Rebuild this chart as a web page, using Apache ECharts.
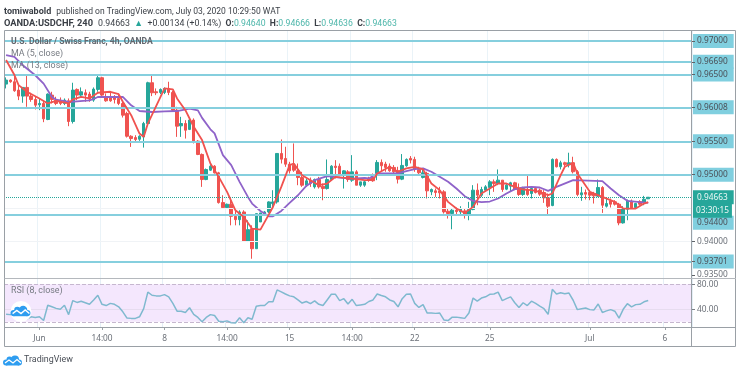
<!DOCTYPE html>
<html><head><meta charset="utf-8">
<style>html,body{margin:0;padding:0;background:#fff}#c{width:740px;height:373px}</style>
<script src="https://cdn.jsdelivr.net/npm/echarts@6/dist/echarts.min.js"></script>
</head><body><div id="c"></div>
<script>
// [open, close, low, high]
const candles = [
[.96356,.96416,.96291,.96456],[.96416,.96391,.96376,.96426],[.96391,.96256,.96241,.96491],[.96266,.96176,.96116,.96341],[.96176,.96306,.96076,.96306],
[.96306,.96176,.96016,.96491],[.96176,.96126,.96091,.96226],[.96126,.96041,.95976,.96166],[.96046,.96066,.95966,.96141],[.96066,.95836,.95786,.96116],
[.95826,.96206,.95816,.96216],[.96191,.96126,.96066,.96241],[.96116,.96066,.96041,.96166],[.96106,.96066,.96041,.96156],[.96066,.96116,.96041,.96141],
[.96106,.95796,.95726,.96141],[.95796,.96266,.95766,.96376],[.96276,.96191,.96116,.96291],[.96191,.96241,.96166,.96306],[.96226,.96191,.96091,.96276],
[.96206,.96131,.96091,.96241],[.96116,.96281,.96091,.96306],[.96276,.96451,.96241,.96491],[.96451,.96191,.96166,.96466],[.96166,.96106,.96091,.96216],
[.96156,.96106,.96091,.96241],[.96166,.96126,.96066,.96191],[.96141,.96066,.96041,.96216],[.96066,.95891,.95856,.96091],[.95916,.95576,.95556,.95941],
[.95576,.95541,.95416,.95591],[.95556,.95526,.95491,.95591],[.95531,.95576,.95506,.95591],[.95566,.95766,.95406,.95791],[.95766,.96376,.95741,.96391],
[.96376,.96226,.96176,.96506],[.96241,.96226,.96191,.96291],[.96231,.96276,.96206,.96291],[.96231,.96291,.96206,.96306],[.96291,.96231,.96191,.96391],
[.96231,.95966,.95941,.96256],[.95966,.95726,.95566,.96016],[.95731,.95766,.95566,.95866],[.95766,.95666,.95541,.95816],[.95678,.95818,.95668,.95838],
[.95818,.95503,.95468,.95843],[.95503,.95303,.95293,.95518],[.95303,.94928,.94818,.95318],[.94928,.95078,.94918,.95093],[.95068,.95128,.95058,.95143],
[.95128,.95028,.95018,.95143],[.95028,.94583,.94568,.95043],[.94583,.94508,.94493,.94693],[.94508,.94558,.94493,.94568],[.94558,.94378,.94243,.94618],
[.94378,.94328,.94243,.94458],[.94328,.94443,.94243,.94468],[.94443,.94008,.94008,.94468],[.94008,.94178,.93993,.94318],[.94193,.93893,.93743,.94243],
[.93893,.94418,.93893,.94418],[.94293,.94428,.94293,.94428],[.94418,.94443,.94393,.94458],[.94443,.94593,.94428,.94603],[.94568,.94593,.94493,.94768],
[.94593,.95318,.94568,.95318],[.95318,.95233,.95168,.95528],[.95243,.95158,.95118,.95418],[.95158,.95058,.95018,.95193],[.95143,.95068,.95043,.95468],
[.95058,.94958,.94843,.95168],[.94958,.94843,.94818,.95043],[.94843,.94908,.94818,.94943],[.94918,.94868,.94818,.94958],[.94818,.94928,.94793,.94943],
[.94928,.94818,.94793,.94968],[.94828,.94793,.94618,.94868],[.94793,.94928,.94778,.95228],[.94928,.95128,.94918,.95143],[.95128,.95108,.94943,.95218],
[.95128,.94993,.94978,.95168],[.94993,.95058,.94793,.95068],[.95043,.94928,.94893,.95068],[.94918,.95043,.94893,.95293],[.95043,.94843,.94843,.95068],
[.94843,.94893,.94818,.94893],[.94844,.94894,.94819,.94919],[.94944,.94919,.94894,.94969],[.94959,.94909,.94894,.95019],[.95019,.95184,.94919,.95219],
[.95184,.95134,.95044,.95229],[.95159,.95109,.95044,.95194],[.95129,.95059,.95044,.95169],[.95109,.95044,.95019,.95144],[.95059,.94934,.94869,.95119],
[.94934,.95139,.94919,.95309],[.95134,.95229,.95119,.95244],[.95244,.95219,.95169,.95279],[.95229,.95079,.95044,.95269],[.95079,.95029,.95009,.95119],
[.94959,.95029,.94944,.95094],[.95019,.94759,.94644,.95044],[.94744,.94779,.94694,.94794],[.94759,.94734,.94669,.94794],[.94759,.94729,.94644,.94819],
[.94744,.94444,.94419,.94769],[.94454,.94419,.94344,.94494],[.94419,.94469,.94184,.94494],[.94469,.94449,.94394,.94509],[.94444,.94494,.94394,.94529],
[.94459,.94409,.94344,.94494],[.94409,.94479,.94319,.94594],[.94479,.94769,.94469,.94844],[.94769,.94694,.94544,.94869],[.94694,.94779,.94669,.94819],
[.94769,.94819,.94744,.94844],[.94809,.94894,.94694,.94919],[.94894,.94869,.94744,.94929],[.94869,.94919,.94844,.95079],[.94919,.94779,.94744,.94919],
[.94784,.94844,.94769,.94869],[.94829,.94879,.94744,.94894],[.94879,.94779,.94769,.94894],[.94794,.94704,.94684,.94869],[.94704,.94794,.94684,.94819],
[.94779,.94704,.94684,.94994],[.94719,.94794,.94644,.94819],[.94794,.94734,.94719,.94819],[.94769,.94709,.94684,.94794],[.94734,.94654,.94579,.94769],
[.94654,.94529,.94394,.94719],[.94539,.95229,.94529,.95244],[.95229,.95119,.95109,.95244],[.95119,.95179,.95079,.95209],[.95179,.95154,.95129,.95194],
[.95149,.95179,.95109,.95329],[.95179,.95044,.95019,.95269],[.95044,.94704,.94679,.95069],[.94699,.94729,.94609,.94819],[.94734,.94709,.94629,.94779],
[.94734,.94694,.94619,.94769],[.94719,.94684,.94569,.94744],[.94679,.94809,.94669,.94929],[.94809,.94544,.94429,.94829],[.94529,.94569,.94509,.94644],
[.94609,.94559,.94509,.94644],[.94594,.94559,.94539,.94619],[.94559,.94279,.94244,.94579],[.94279,.94494,.94269,.94529],[.94484,.94609,.94319,.94629],
[.94604,.94504,.94489,.94629],[.94509,.94569,.94494,.94579],[.94599,.94559,.94539,.94619],[.94579,.94634,.94544,.94684],[.94640,.94663,.94636,.94666]
];
const ma5Points = [[0,.96716],[2,.96491],[3,.96341],[5,.96241],[8,.96141],[10,.96066],[12,.96106],[15,.96066],[16,.96126],[18,.96166],[20,.96141],[22,.96226],[25,.96241],[27,.96206],[28,.96091],[30,.95891],[32,.95616],[33,.95566],[34,.95766],[38,.96291],[40,.96276],[41,.96141],[43,.95966],[45,.95718],[47,.95518],[49,.95168],[51,.94968],[53,.94743],[55,.94468],[57,.94368],[59,.94193],[61,.94178],[64,.94518],[66,.94818],[68,.95143],[69,.95168],[71,.94993],[73,.94918],[75,.94843],[77,.94868],[79,.94968],[83,.94943],[86,.94919],[88,.94919],[89,.95019],[92,.95119],[94,.95044],[96,.95094],[98,.95119],[100,.95079],[102,.94869],[104,.94769],[106,.94594],[108,.94494],[110,.94429],[112,.94519],[114,.94719],[116,.94794],[118,.94869],[120,.94869],[122,.94819],[124,.94779],[126,.94769],[128,.94744],[129,.94719],[130,.94694],[131,.94719],[133,.94994],[134,.95119],[136,.95179],[137,.95019],[140,.94744],[143,.94669],[146,.94594],[148,.94494],[151,.94494],[153,.94569],[154,.94589]];
const ma13Points = [[0,.96788],[2,.96763],[4,.96638],[7,.96488],[9,.96363],[11,.96163],[12,.96123],[15,.96088],[17,.96098],[20,.96113],[21,.96133],[22,.96163],[28,.96163],[30,.96038],[32,.95953],[35,.95938],[38,.95948],[41,.95953],[44,.95988],[46,.95963],[47,.95850],[49,.95680],[50,.95618],[52,.95293],[54,.95143],[56,.94893],[58,.94668],[59,.94568],[61,.94458],[63,.94378],[64,.94378],[66,.94458],[68,.94578],[70,.94693],[72,.94833],[74,.94918],[77,.94978],[80,.94958],[83,.94943],[86,.94953],[87,.94944],[89,.95019],[92,.95019],[94,.95019],[96,.95054],[98,.95084],[100,.95094],[102,.95044],[104,.94969],[106,.94894],[108,.94794],[110,.94679],[112,.94609],[114,.94589],[116,.94599],[118,.94644],[120,.94719],[122,.94784],[124,.94809],[126,.94819],[128,.94809],[130,.94759],[132,.94819],[136,.94919],[143,.94904],[145,.94794],[147,.94694],[149,.94609],[152,.94589],[154,.94579]];
const rsiValues = [32,31.5,30,28,26.5,24.5,28,27,28,22,46.5,44,41.5,40,46.5,31.5,54,51,53,50.5,48,55,62.5,48,46,49.5,48,44,36,26,25.5,25.5,28,41,67.5,62.5,61.5,61.5,63.5,60,49.5,37,37,35,42.5,32,27,20,27,31.5,30,21,20,21.5,18.5,18,26.5,18.5,26.5,
 24,45,46,46,52,52,71,68,64.5,61.5,60,55,50,52.5,49,53.5,48,46,55,64,64,54,57,48.5,56,46,47,48,52.5,55,64.5,62,60,55,52.5,44,57,64,64.5,49.5,43,47.5,34,34,33.5,34,23,22,27.5,27.5,26.5,25.5,34,58,53,58,60,64,64.5,67.5,
 54,57,60,50.5,43,50.5,46,53,49.5,45,41,32,72,64.5,66.5,65,66,54.5,39.5,41,42,39.5,39,48.5,35,37.5,39.5,37,26,40,49,44,47.5,48,52,54];
const tickLabels = {8:'Jun',23:'14:00',38:'8',53:'14:00',68:'15',83:'14:00',98:'22',116:'25',140:'Jul',158:'6'};
const barCount = 165;
const priceLevels = [0.97,0.9669,0.965,0.96008,0.955,0.95,0.944,0.93701];
const plainPriceTicks = [0.94,0.935];
const faintPrices = [0.945,0.94];
const lastPrice = 0.94663;
const countdown = '03:30:15';
const rsiBands = [80,20];
const rsiTicks = [80,40];

const cats = Array.from({length:barCount},(_,i)=>tickLabels[i]||String(i));
const isTick = i => tickLabels[i]!==undefined;
const UP='#26a69a',DOWN='#ef5350',LEVEL='#86cfde';
const FF='"Noto Sans",sans-serif', TF='Roboto,sans-serif';
const AXF=8.3;
const box={show:true,position:'end',distance:1,fontFamily:FF,fontSize:AXF,color:'#4a4f57',backgroundColor:'#80cfdf',padding:[3,6,3,4]};
const lastBox=Object.assign({},box,{color:'#eef9f7',backgroundColor:UP});

const levelData = priceLevels.map(v=>({yAxis:v,label:Object.assign({},box,{formatter:v.toFixed(5),offset:v===0.944?[0,8]:[0,0]})}));
const faintData = faintPrices.map(v=>({yAxis:v,lineStyle:{color:'#f0f3f6',width:1,type:'solid'},label:{show:false}}));
const plainData = plainPriceTicks.map(v=>({yAxis:v,lineStyle:{color:'rgba(0,0,0,0)',width:0},label:{show:true,position:'end',distance:5,fontFamily:FF,fontSize:AXF,color:'#6b7078',formatter:v.toFixed(5)}}));

function cloud(cx,cy,s,color,z){
  const c=(x,y,r)=>({type:'circle',z,shape:{cx:x,cy:y,r},style:{fill:color}});
  return {type:'group',x:cx,y:cy,scaleX:s,scaleY:s,silent:true,children:[
    c(-7,1.5,3),c(-3.5,-1.5,3),c(2,-1.5,4),c(6,1.5,3),
    {type:'rect',z,shape:{x:-7,y:0,width:13,height:4.5},style:{fill:color}},
    {type:'polyline',z:z+1,shape:{points:[[-8,2],[-4,-1],[0,2],[4,-1.5],[8,2]]},style:{stroke:'#fff',lineWidth:1.3,fill:null}}
  ]};
}
const frame='#9aa0a6';
const line=(x1,y1,x2,y2,c,w)=>({type:'line',silent:true,z:20,shape:{x1,y1,x2,y2},style:{stroke:c||frame,lineWidth:w||1}});
const plain={fontFamily:TF,fontSize:8.9,fontWeight:'normal',color:'#767b82'};
const R1={b:{fontFamily:TF,fontSize:9,fontWeight:'bold',color:'#3a3f46'},n:{fontFamily:TF,fontSize:8.5,fontWeight:'normal',color:'#3a3f46'}};
const R2={b:{fontFamily:TF,fontSize:9.3,fontWeight:'bold',color:'#3a3f46'},c:{fontFamily:TF,fontSize:8.6,fontWeight:'bold',color:'#3a3f46'},n:{fontFamily:TF,fontSize:8.8,fontWeight:'normal',color:'#3a3f46'},u:{fontFamily:TF,fontSize:8.7,fontWeight:'normal',color:'#4db6aa'},a:{fontFamily:TF,fontSize:8.8,fontWeight:'normal',color:UP}};

const chart=echarts.init(document.getElementById('c'),null,{renderer:'canvas'});
chart.setOption({
  animation:false,backgroundColor:'#fff',
  title:[
   {left:4,top:3,padding:0,text:'{b|tomiwabold} {n|published on TradingView.com, July 03, 2020 10:29:50 WAT}',textStyle:{fontWeight:'normal',rich:R1}},
   {left:4,top:15,padding:0,text:'{b|OANDA:USDCHF, 240} {n|0.94663  }{a|▲}{n|  +0.00134 (+0.14%)  }{c|O:}{u|0.94640  }{c|H:}{u|0.94666  }{c|L:}{u|0.94636  }{c|C:}{u|0.94663}',textStyle:{fontWeight:'normal',rich:R2}},
   {left:11,top:37,padding:0,text:'U.S. Dollar / Swiss Franc, 4h, OANDA',textStyle:{fontFamily:TF,fontSize:8.6,fontWeight:'bold',color:'#62676e'}},
   {left:11,top:49,padding:0,text:'MA (5, close)',textStyle:plain},
   {left:11,top:61,padding:0,text:'MA (13, close)',textStyle:plain},
   {left:11,top:286,padding:0,text:'RSI (8, close)',textStyle:plain},
   {left:24,top:355,padding:0,text:'TradingView',textStyle:{fontFamily:TF,fontSize:8.9,fontWeight:'normal',color:'#4a4f57'}}
  ],
  grid:[{left:4,width:688,top:30,height:248},{left:4,width:688,top:279,height:48}],
  xAxis:[
   {type:'category',gridIndex:0,data:cats,boundaryGap:true,axisLine:{show:false},axisLabel:{show:false},
    axisTick:{show:false,alignWithLabel:true},splitLine:{show:true,interval:i=>isTick(i),lineStyle:{color:'#eaf3f8',width:1}}},
   {type:'category',gridIndex:1,data:cats,boundaryGap:true,axisLine:{show:false},
    axisTick:{show:true,alignWithLabel:true,interval:i=>isTick(i),length:3,lineStyle:{color:'#9aa0a6'}},
    axisLabel:{show:true,interval:i=>isTick(i),formatter:v=>v,margin:8,fontFamily:FF,fontSize:8.3,color:'#6b7078',
      fontWeight:'normal',hideOverlap:false},
    splitLine:{show:true,interval:i=>isTick(i),lineStyle:{color:'#e4eef6',width:1}}}
  ],
  yAxis:[
   {type:'value',gridIndex:0,min:0.93455,max:0.97165,scale:true,show:true,position:'right',axisLine:{show:false},axisLabel:{show:false},splitLine:{show:false},
    axisTick:{show:true,length:3,customValues:[...priceLevels.slice(0,6),...plainPriceTicks,priceLevels[7]],lineStyle:{color:'#5f6368'}},z:8},
   {type:'value',gridIndex:1,min:11.7,max:88.5,show:true,position:'right',axisLine:{show:false},axisLabel:{show:false},splitLine:{show:false},
    axisTick:{show:true,length:3,customValues:rsiTicks,lineStyle:{color:'#7a7f86'}}}
  ],
  series:[
   {type:'line',xAxisIndex:0,yAxisIndex:0,data:[],silent:true,symbol:'none',z:1,
    markLine:{silent:true,symbol:'none',animation:false,lineStyle:{color:LEVEL,width:2,type:'solid'},precision:5,
      data:[...faintData,...levelData,...plainData]}},
   {type:'candlestick',xAxisIndex:0,yAxisIndex:0,data:candles,barWidth:3,silent:true,z:3,
    itemStyle:{color:UP,color0:DOWN,borderColor:UP,borderColor0:DOWN,borderWidth:1}},
   {type:'line',xAxisIndex:0,yAxisIndex:0,data:ma13Points,symbol:'none',silent:true,z:4,lineStyle:{color:'#8f63c9',width:1.8}},
   {type:'line',xAxisIndex:0,yAxisIndex:0,data:ma5Points,symbol:'none',silent:true,z:5,lineStyle:{color:'#f0524f',width:1.8}},
   {type:'line',xAxisIndex:0,yAxisIndex:0,data:[],silent:true,symbol:'none',z:6,
    markLine:{silent:true,symbol:'none',animation:false,lineStyle:{color:UP,width:1,type:'dotted'},precision:5,
      data:[{yAxis:lastPrice,label:Object.assign({},lastBox,{formatter:lastPrice.toFixed(5)})},
            {yAxis:lastPrice,lineStyle:{color:'rgba(0,0,0,0)',width:0},label:Object.assign({},lastBox,{formatter:countdown,padding:[3,3,3,3],offset:[0,13.5]})}]}},
   {type:'line',xAxisIndex:1,yAxisIndex:1,data:rsiValues,symbol:'none',silent:true,z:5,lineStyle:{color:'#7fb9cf',width:1.5},
    markArea:{silent:true,itemStyle:{color:'#f4e7fd'},data:[[{yAxis:rsiBands[0]},{yAxis:rsiBands[1]}]]},
    markLine:{silent:true,symbol:'none',animation:false,
      data:[...rsiBands.map(v=>({yAxis:v,lineStyle:{color:'#c6b7cf',width:1,type:'dashed'},label:{show:v===80,position:'end',distance:5,formatter:v.toFixed(2),fontFamily:FF,fontSize:AXF,color:'#6b7078'}})),
            ...rsiTicks.filter(v=>v!==80).map(v=>({yAxis:v,lineStyle:{color:'#e6dcef',width:1,type:'solid'},label:{show:true,position:'end',distance:5,formatter:v.toFixed(2),fontFamily:FF,fontSize:AXF,color:'#6b7078'}}))]}}
  ],
  graphic:[
   {type:'rect',silent:true,z:20,shape:{x:4.5,y:30.5,width:731,height:316},style:{fill:null,stroke:frame,lineWidth:1}},
   line(691.5,30,691.5,347),
   line(4.5,278.5,736,278.5,'#b4b8bd',1),
   line(4.5,327.5,736,327.5),
   {type:'circle',silent:true,z:21,shape:{cx:21,cy:311.5,r:10.5},style:{fill:'#fff'}},
   cloud(21,311.5,1.05,'#2e9df0',22),
   cloud(13,361,1,'#2e9df0',22)
  ]
});
</script></body></html>
